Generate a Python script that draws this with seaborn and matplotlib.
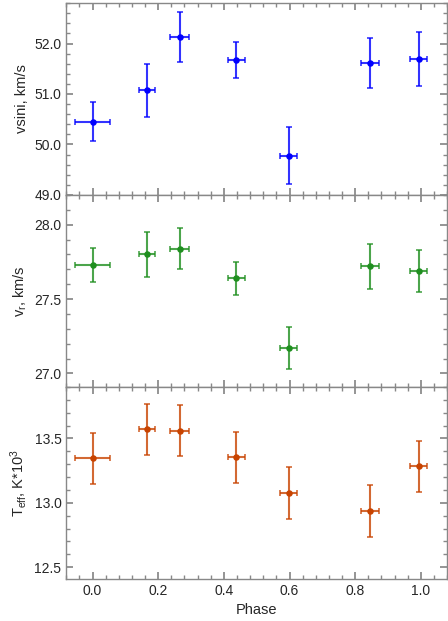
import numpy as np
import pandas as pd
import seaborn as sns
import matplotlib.pyplot as plt
from matplotlib.ticker import AutoMinorLocator

# phase of each observation
phase = [0.0, 0.166, 0.265, 0.438, 0.597, 0.846, 0.994]
phase_err = [0.052, 0.024, 0.028, 0.025, 0.025, 0.027, 0.026]

# projected rotational velocity
vsini = [50.45, 51.07, 52.13, 51.67, 49.78, 51.61, 51.69]
vsini_err = [0.39, 0.53, 0.50, 0.35, 0.57, 0.49, 0.53]

# radial velocity
vr = [27.73, 27.80, 27.84, 27.64, 27.17, 27.72, 27.69]
vr_err = [0.112, 0.15, 0.14, 0.11, 0.14, 0.15, 0.14]

# effective temperature, 10^3 K
teff = [13.345, 13.57, 13.56, 13.352, 13.075, 12.938, 13.282]
teff_err = [0.20, 0.20, 0.20, 0.20, 0.20, 0.20, 0.20]

sns.set_theme(style="ticks")
plt.rcParams['font.family'] = ['Liberation Sans', 'DejaVu Sans']
plt.rcParams['mathtext.default'] = 'regular'

df = pd.DataFrame({'phase': phase, 'vsini': vsini, 'vr': vr, 'teff': teff})

fig, axes = plt.subplots(3, 1, figsize=(4.48, 6.21), dpi=100, sharex=True)
fig.subplots_adjust(left=0.148, right=0.998, top=0.995, bottom=0.068, hspace=0)

panels = [
    ('vsini', vsini_err, '#0000ff', 'vsini, km/s', (49.0, 52.8), [49.0, 50.0, 51.0, 52.0]),
    ('vr', vr_err, '#1f8f1f', r'v$_r$, km/s', (26.91, 28.2), [27.0, 27.5, 28.0]),
    ('teff', teff_err, '#c84300', r'T$_{eff}$, K*10$^3$', (12.41, 13.9), [12.5, 13.0, 13.5]),
]

for ax, (col, yerr, color, label, ylim, yticks) in zip(axes, panels):
    ax.errorbar(df['phase'], df[col], xerr=phase_err, yerr=yerr, fmt='none',
                ecolor=color, elinewidth=1.5, capsize=2, capthick=1.2, alpha=0.8)
    sns.scatterplot(data=df, x='phase', y=col, ax=ax, color=color, s=22,
                    edgecolor=color, linewidth=0, zorder=3)
    ax.set_ylim(*ylim)
    ax.set_yticks(yticks)
    ax.set_yticklabels([f'{t:.1f}' for t in yticks])
    ax.set_ylabel(label, fontsize=10.5)
    ax.set_xlabel('')
    ax.yaxis.set_minor_locator(AutoMinorLocator(5))
    ax.xaxis.set_minor_locator(AutoMinorLocator(5))
    ax.tick_params(which='both', direction='in', top=True, right=True,
                   color='#888888', labelsize=10)
    ax.tick_params(which='major', length=5)
    ax.tick_params(which='minor', length=3)
    for s in ax.spines.values():
        s.set_color('#888888')
        s.set_linewidth(1.0)

axes[-1].set_xlim(-0.08, 1.08)
axes[-1].set_xticks([0.0, 0.2, 0.4, 0.6, 0.8, 1.0])
axes[-1].set_xticklabels(['0.0', '0.2', '0.4', '0.6', '0.8', '1.0'])
axes[-1].set_xlabel('Phase', fontsize=10.5)

plt.savefig('out.png', dpi=100)
